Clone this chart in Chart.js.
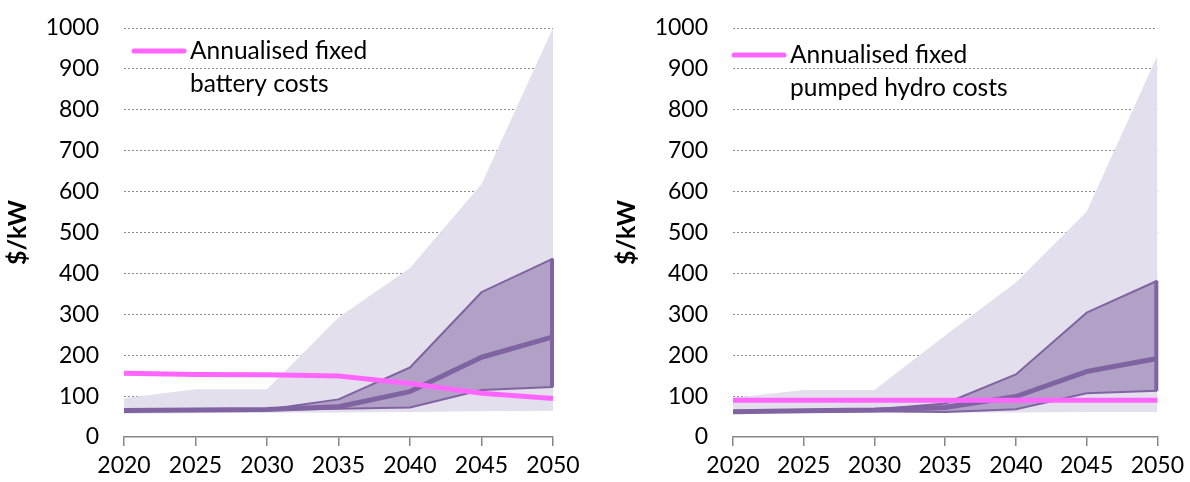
<!DOCTYPE html>
<html>
<head>
<meta charset="utf-8">
<script src="https://cdn.jsdelivr.net/npm/chart.js@4.4.0/dist/chart.umd.min.js"></script>
<style>
  body { margin: 0; background: #fff; }
  #wrap { position: relative; width: 1190px; height: 482px; }
  canvas { position: absolute; top: 0; }
</style>
</head>
<body>
<div id="wrap">
  <canvas id="batteryChart" width="595" height="482" style="left:0"></canvas>
  <canvas id="hydroChart" width="595" height="482" style="left:595px"></canvas>
</div>
<script>
// Data
const years = ["2020", "2025", "2030", "2035", "2040", "2045", "2050"];
const yTicks = { min: 0, max: 1000, step: 100 };

// Battery panel
const batteryRangeLow = [57, 58, 59, 60, 61, 63, 64];
const batteryRangeHigh = [95, 117, 117, 292, 413, 618, 1000];
const batteryIqrLow = [64, 65, 66, 69, 72, 115, 122];
const batteryIqrHigh = [65, 66, 67, 92, 170, 354, 436];
const batteryMedian = [65, 66, 67, 74, 111, 195, 245];
const batteryFixed = [156, 153, 152, 149, 131, 107, 94];
const batteryLegend = ["Annualised fixed", "battery costs"];

// Pumped hydro panel
const hydroRangeLow = [58, 58, 59, 59, 60, 61, 61];
const hydroRangeHigh = [96, 115, 115, 248, 378, 551, 932];
const hydroIqrLow = [61, 62, 63, 61, 68, 107, 113];
const hydroIqrHigh = [62, 64, 67, 82, 153, 304, 382];
const hydroMedian = [62, 64, 66, 72, 99, 160, 192];
const hydroFixed = [90, 90, 90, 90, 90, 90, 90];
const hydroLegend = ["Annualised fixed", "pumped hydro costs"];

const FONT = "Lato, 'Open Sans', sans-serif";
const PINK = "#ff66ff";
const PURPLE = "#8064a2";
const PURPLE_FILL = "#b2a1c7";
const LIGHT_FILL = "#e4dfec";
const AXIS_GREY = "#868686";

// closes the dark band on its right side with a vertical edge
const bandEdge = {
  id: "bandEdge",
  afterDatasetDraw(chart, args) {
    const ds = chart.data.datasets[args.index];
    if (ds.edgeTo === undefined) return;
    const top = args.meta.data[args.meta.data.length - 1];
    const otherMeta = chart.getDatasetMeta(ds.edgeTo);
    const bottom = otherMeta.data[otherMeta.data.length - 1];
    const ctx = chart.ctx;
    ctx.save();
    ctx.strokeStyle = PURPLE;
    ctx.lineWidth = 4;
    ctx.beginPath();
    ctx.moveTo(top.x - 1, top.y);
    ctx.lineTo(bottom.x - 1, bottom.y);
    ctx.stroke();
    ctx.restore();
  },
};

// legend drawn inside the plot, text wraps on two lines
const inlineLegend = {
  id: "inlineLegend",
  afterDraw(chart, args, opts) {
    const area = chart.chartArea;
    const ctx = chart.ctx;
    const x0 = area.left + opts.offsetX;
    const y0 = area.top + opts.offsetY;
    ctx.save();
    ctx.strokeStyle = PINK;
    ctx.lineWidth = 5;
    ctx.lineCap = "round";
    ctx.beginPath();
    ctx.moveTo(x0 + 2, y0);
    ctx.lineTo(x0 + 52, y0);
    ctx.stroke();
    ctx.fillStyle = "#000";
    ctx.font = "24.5px " + FONT;
    ctx.textBaseline = "middle";
    opts.lines.forEach((line, i) => {
      ctx.fillText(line, x0 + 58, y0 + i * 33);
    });
    ctx.restore();
  },
};

function makeChart(id, series, layout) {
  const ctx = document.getElementById(id).getContext("2d");
  return new Chart(ctx, {
    type: "line",
    data: {
      labels: years,
      datasets: [
        {
          label: series.legend.join(" "),
          data: series.fixed,
          borderColor: PINK,
          borderWidth: 5,
          fill: false,
        },
        {
          label: "Median",
          data: series.median,
          borderColor: PURPLE,
          borderWidth: 5,
          fill: false,
        },
        {
          label: "IQR low",
          data: series.iqrLow,
          borderColor: PURPLE,
          borderWidth: 2,
          fill: false,
        },
        {
          label: "IQR high",
          data: series.iqrHigh,
          borderColor: PURPLE,
          borderWidth: 2,
          backgroundColor: PURPLE_FILL,
          fill: 2,
          edgeTo: 2,
        },
        {
          label: "Range high",
          data: series.rangeHigh,
          borderWidth: 0,
          borderColor: "rgba(0,0,0,0)",
          backgroundColor: LIGHT_FILL,
          fill: 5,
        },
        {
          label: "Range low",
          data: series.rangeLow,
          borderWidth: 0,
          borderColor: "rgba(0,0,0,0)",
          fill: false,
        },
      ],
    },
    options: {
      responsive: false,
      animation: false,
      elements: {
        point: { radius: 0, hoverRadius: 0 },
        line: { tension: 0, borderCapStyle: "butt", borderJoinStyle: "round" },
      },
      layout: {
        padding: { top: 28, right: layout.padRight, bottom: 0, left: 0 },
      },
      plugins: {
        legend: { display: false },
        tooltip: { enabled: false },
        inlineLegend: {
          lines: series.legend,
          offsetX: layout.legendX,
          offsetY: layout.legendY,
        },
      },
      scales: {
        x: {
          offset: false,
          grid: {
            drawOnChartArea: false,
            drawTicks: true,
            tickLength: 9,
            color: AXIS_GREY,
            lineWidth: 1.5,
          },
          border: { display: true, color: AXIS_GREY, width: 1.5 },
          ticks: {
            padding: 6,
            color: "#000",
            maxRotation: 0,
            autoSkip: false,
            font: { family: FONT, size: 23 },
          },
          afterFit: (scale) => {
            scale.height = 45;
          },
        },
        y: {
          min: yTicks.min,
          max: yTicks.max,
          border: { display: false, dash: [2, 2] },
          grid: {
            drawTicks: true,
            tickLength: 25,
            tickColor: "rgba(0,0,0,0)",
            lineWidth: 1,
            color: (c) => (c.tick.value === 0 ? "rgba(0,0,0,0)" : "#8c8c8c"),
          },
          ticks: {
            stepSize: yTicks.step,
            padding: 0,
            color: "#000",
            font: { family: FONT, size: 23 },
            callback: (value) => String(value),
          },
          title: {
            display: true,
            text: "$/kW",
            color: "#000",
            font: { family: FONT, size: 25, weight: "bold" },
            padding: { top: layout.titlePad, bottom: 0 },
          },
          afterFit: (scale) => {
            scale.width = layout.axisWidth;
          },
        },
      },
    },
    plugins: [bandEdge, inlineLegend],
  });
}

document.addEventListener("DOMContentLoaded", () => {
  makeChart(
    "batteryChart",
    {
      rangeLow: batteryRangeLow,
      rangeHigh: batteryRangeHigh,
      iqrLow: batteryIqrLow,
      iqrHigh: batteryIqrHigh,
      median: batteryMedian,
      fixed: batteryFixed,
      legend: batteryLegend,
    },
    { axisWidth: 124, padRight: 42, titlePad: 3, legendX: 8, legendY: 23 }
  );

  makeChart(
    "hydroChart",
    {
      rangeLow: hydroRangeLow,
      rangeHigh: hydroRangeHigh,
      iqrLow: hydroIqrLow,
      iqrHigh: hydroIqrHigh,
      median: hydroMedian,
      fixed: hydroFixed,
      legend: hydroLegend,
    },
    { axisWidth: 138, padRight: 28, titlePad: 17, legendX: -1, legendY: 27 }
  );
});
</script>
</body>
</html>
